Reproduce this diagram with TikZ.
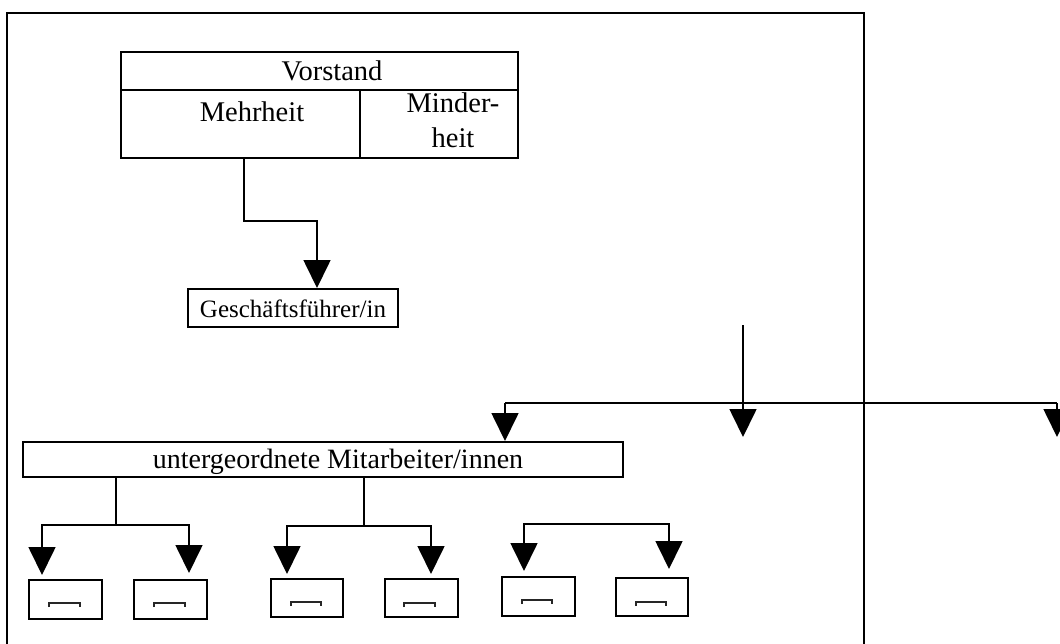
\documentclass[tikz,border=0pt]{standalone}
\usepackage{fontspec}
\setmainfont{Liberation Serif}
\usetikzlibrary{arrows.meta}
\begin{document}
\begin{tikzpicture}[x=1pt,y=-1pt,
  box/.style={draw, line width=1.8pt, inner sep=0pt, anchor=north west},
  txt/.style={anchor=base, inner sep=0pt, font=\fontsize{28.5}{32}\selectfont},
  conn/.style={line width=1.7pt},
  arr/.style={line width=1.7pt, -{Triangle[width=27pt,length=28pt]}},
  brk/.style={line width=1.1pt, draw=black!85}]
\useasboundingbox (0,0) rectangle (1060,643);
\clip (0,0) rectangle (1060,643);
% outer frame (open at the bottom, cropped)
\draw[line width=2.6pt] (7,700) -- (7,13) -- (864,13) -- (864,700);
% Vorstand block
\node[box, minimum width=397pt, minimum height=38pt] (vor) at (120,51) {};
\node[box, minimum width=239pt, minimum height=68pt] (mehr) at (120,89) {};
\node[box, minimum width=158pt, minimum height=68pt] (minder) at (359,89) {};
\node[txt] (tvor) at (332,80) {Vorstand};
\node[txt] (tmehr) at (252,121) {Mehrheit};
\node[txt] (tmin1) at (453,112) {Minder-};
\node[txt] (tmin2) at (453,147) {heit};
% Geschaeftsfuehrer
\node[box, minimum width=210pt, minimum height=38pt] (gf) at (187,288) {};
\node[txt, font=\fontsize{25}{28}\selectfont] (tgf) at (293,317) {Geschäftsführer/in};
% untergeordnete
\node[box, minimum width=600pt, minimum height=35pt] (unt) at (22,441) {};
\node[txt, font=\fontsize{28}{32}\selectfont] (tunt) at (338,468) {untergeordnete Mitarbeiter/innen};
% small boxes
\node[box, minimum width=73pt, minimum height=39pt] (s1) at (28,579) {};
\node[box, minimum width=73pt, minimum height=39pt] (s2) at (133,579) {};
\node[box, minimum width=72pt, minimum height=38pt] (s3) at (270,578) {};
\node[box, minimum width=73pt, minimum height=38pt] (s4) at (384,578) {};
\node[box, minimum width=73pt, minimum height=39pt] (s5) at (501,576) {};
\node[box, minimum width=72pt, minimum height=38pt] (s6) at (615,577) {};
% placeholders inside small boxes
\draw[brk] (49,607) -- (49,603) -- (80,603) -- (80,607);
\draw[brk] (154,607) -- (154,603) -- (185,603) -- (185,607);
\draw[brk] (291,606) -- (291,602) -- (321,602) -- (321,606);
\draw[brk] (404,607) -- (404,603) -- (435,603) -- (435,607);
\draw[brk] (522,604) -- (522,600) -- (552,600) -- (552,604);
\draw[brk] (636,606) -- (636,602) -- (666,602) -- (666,606);
% Vorstand -> Geschaeftsfuehrer
\coordinate (c1) at (244,157);
\coordinate (c2) at (317,221);
\draw[arr] (c1) |- (c2) -- (c2 |- gf.north);
% right-hand distribution
\coordinate (r0) at (743,325);
\coordinate (r1) at (743,403);
\coordinate (rl) at (505,403);
\coordinate (rr) at (1057,403);
\coordinate (a2) at (743,437);
\coordinate (a3) at (1057,437);
\draw[conn] (r0) -- (r1);
\draw[line width=1.4pt] (rl) -- (rr);
\draw[arr] (rl) -- (rl |- unt.north);
\draw[arr] (r1) -- (a2);
\draw[arr] (rr) -- (a3);
% lower branches
\coordinate (b1) at (116,525);
\coordinate (b2) at (364,526);
\coordinate (b3) at (596,524);
\draw[conn] (b1 |- unt.south) -- (b1);
\draw[conn] (b2 |- unt.south) -- (b2);
\draw[arr] (b1) -| (42,575);
\draw[arr] (b1) -| (189,573);
\draw[arr] (b2) -| (287,574);
\draw[arr] (b2) -| (431,574);
\draw[arr] (b3) -| (524,571);
\draw[arr] (b3) -| (669,569);
\end{tikzpicture}
\end{document}
